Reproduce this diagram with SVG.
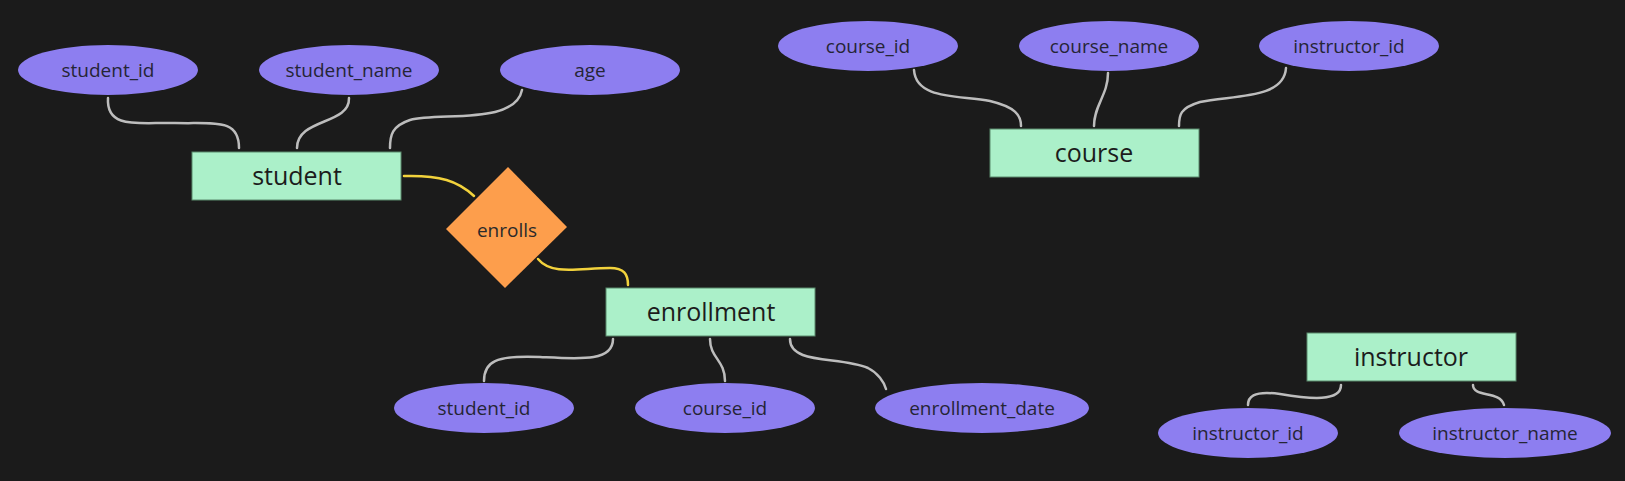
<svg xmlns="http://www.w3.org/2000/svg" width="1625" height="481" viewBox="0 0 1625 481">
<style>
.attr ellipse{fill:#8d7ef0;}
.attr text{font-family:"Open Sans","Noto Sans",sans-serif;font-size:19px;fill:#252535;text-anchor:middle;}
.ent rect{fill:#abf0c9;stroke:#5b8a6c;stroke-width:1;}
.ent text{font-family:"Open Sans","Noto Sans",sans-serif;font-size:25px;fill:#1c1c1c;text-anchor:middle;}
.rel polygon{fill:#fd9e4c;}
.rel text{font-family:"Open Sans","Noto Sans",sans-serif;font-size:19px;fill:#2a2a2a;text-anchor:middle;}
.conn path{fill:none;stroke:#bdbdbd;stroke-width:2.5;stroke-linecap:round;}
.conn path.y{stroke:#f2d23c;}
</style>
<rect width="1625" height="481" fill="#1b1b1b"/>
<g id="connectors" class="conn">
<path d="M108,98 C106,130 140,122 175,123 C215,124 239,118 239,148"/>
<path d="M349,98 C350,125 297,118 297,148"/>
<path d="M522,90 C515,125 440,112 410,120 C392,126 390,135 390,148"/>
<path class="y" d="M404,176 C440,175 458,181 474,196"/>
<path class="y" d="M538,259 C552,276 580,268 610,268 C624,268 628,274 628,285"/>
<path d="M613,339 C613,362 580,359 540,357 C495,355 484,362 484,381"/>
<path d="M710,339 C710,358 725,360 725,381"/>
<path d="M790,339 C790,365 840,356 868,368 C878,373 884,382 886,389"/>
<path d="M914,70 C916,100 960,95 990,101 C1015,107 1021,115 1021,126"/>
<path d="M1108,73 C1108,95 1094,105 1094,126"/>
<path d="M1286,68 C1284,100 1230,95 1200,102 C1180,108 1179,115 1179,126"/>
<path d="M1341,385 C1341,402 1310,399 1280,394 C1252,390 1248,398 1248,405"/>
<path d="M1473,385 C1473,398 1500,390 1504,405"/>
</g>
<g id="student" class="ent"><rect x="192" y="152" width="209" height="48"/><text x="297" y="185">student</text></g>
<g id="course" class="ent"><rect x="990" y="129" width="209" height="48"/><text x="1094" y="162">course</text></g>
<g id="enrollment" class="ent"><rect x="606" y="288" width="209" height="48"/><text x="711" y="321">enrollment</text></g>
<g id="instructor" class="ent"><rect x="1307" y="333" width="209" height="48"/><text x="1411" y="366">instructor</text></g>
<g id="enrolls" class="rel"><polygon points="508,167 567,227 505,288 446,229"/><text x="507" y="237">enrolls</text></g>
<g id="student_student_id" class="attr"><ellipse cx="108" cy="70" rx="90" ry="25"/><text x="108" y="76.5">student_id</text></g>
<g id="student_student_name" class="attr"><ellipse cx="349" cy="70" rx="90" ry="25"/><text x="349" y="76.5">student_name</text></g>
<g id="student_age" class="attr"><ellipse cx="590" cy="70" rx="90" ry="25"/><text x="590" y="76.5">age</text></g>
<g id="course_course_id" class="attr"><ellipse cx="868" cy="46" rx="90" ry="25"/><text x="868" y="52.5">course_id</text></g>
<g id="course_course_name" class="attr"><ellipse cx="1109" cy="46" rx="90" ry="25"/><text x="1109" y="52.5">course_name</text></g>
<g id="course_instructor_id" class="attr"><ellipse cx="1349" cy="46" rx="90" ry="25"/><text x="1349" y="52.5">instructor_id</text></g>
<g id="enrollment_student_id" class="attr"><ellipse cx="484" cy="408" rx="90" ry="25"/><text x="484" y="414.5">student_id</text></g>
<g id="enrollment_course_id" class="attr"><ellipse cx="725" cy="408" rx="90" ry="25"/><text x="725" y="414.5">course_id</text></g>
<g id="enrollment_enrollment_date" class="attr"><ellipse cx="982" cy="408" rx="107" ry="25"/><text x="982" y="414.5">enrollment_date</text></g>
<g id="instructor_instructor_id" class="attr"><ellipse cx="1248" cy="433" rx="90" ry="25"/><text x="1248" y="439.5">instructor_id</text></g>
<g id="instructor_instructor_name" class="attr"><ellipse cx="1505" cy="433" rx="106" ry="25"/><text x="1505" y="439.5">instructor_name</text></g>
</svg>
